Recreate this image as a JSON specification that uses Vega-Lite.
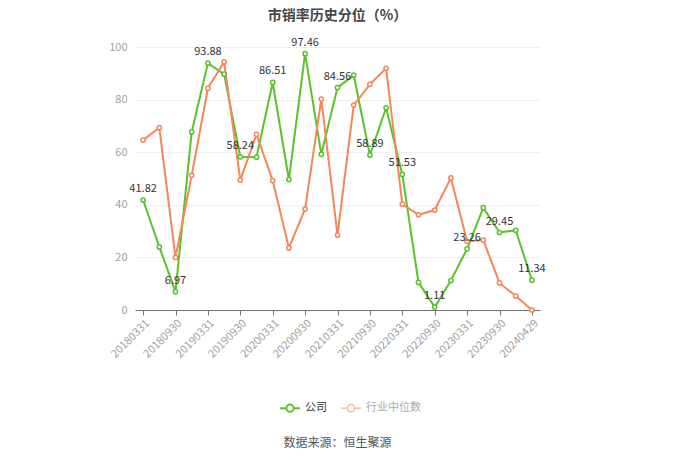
{
  "$schema": "https://vega.github.io/schema/vega-lite/v6.json",
  "autosize": "none",
  "width": 405,
  "height": 263,
  "padding": {"left": 135, "top": 47, "right": 140, "bottom": 150},
  "background": "white",
  "title": {
    "text": "市销率历史分位（%）",
    "fontSize": 14,
    "fontWeight": "bold",
    "color": "#464646",
    "font": "Noto Sans CJK SC",
    "anchor": "middle",
    "offset": 14
  },
  "config": {
    "view": {"stroke": null},
    "font": "Noto Sans CJK SC"
  },
  "data": {
    "values": [
      {"date": "20180331", "series": "公司", "v": 41.82},
      {"date": "20180630", "series": "公司", "v": 24.0},
      {"date": "20180930", "series": "公司", "v": 6.97},
      {"date": "20181231", "series": "公司", "v": 67.7},
      {"date": "20190331", "series": "公司", "v": 93.88},
      {"date": "20190630", "series": "公司", "v": 89.7},
      {"date": "20190930", "series": "公司", "v": 58.24},
      {"date": "20191231", "series": "公司", "v": 58.1},
      {"date": "20200331", "series": "公司", "v": 86.51},
      {"date": "20200630", "series": "公司", "v": 49.6},
      {"date": "20200930", "series": "公司", "v": 97.46},
      {"date": "20201231", "series": "公司", "v": 59.2},
      {"date": "20210331", "series": "公司", "v": 84.56},
      {"date": "20210630", "series": "公司", "v": 89.3},
      {"date": "20210930", "series": "公司", "v": 58.89},
      {"date": "20211231", "series": "公司", "v": 76.9},
      {"date": "20220331", "series": "公司", "v": 51.53},
      {"date": "20220630", "series": "公司", "v": 10.5},
      {"date": "20220930", "series": "公司", "v": 1.11},
      {"date": "20221231", "series": "公司", "v": 11.2},
      {"date": "20230331", "series": "公司", "v": 23.26},
      {"date": "20230630", "series": "公司", "v": 38.9},
      {"date": "20230930", "series": "公司", "v": 29.45},
      {"date": "20231231", "series": "公司", "v": 30.3},
      {"date": "20240429", "series": "公司", "v": 11.34},
      {"date": "20180331", "series": "行业中位数", "v": 64.6},
      {"date": "20180630", "series": "行业中位数", "v": 69.3},
      {"date": "20180930", "series": "行业中位数", "v": 20.0},
      {"date": "20181231", "series": "行业中位数", "v": 51.2},
      {"date": "20190331", "series": "行业中位数", "v": 84.3},
      {"date": "20190630", "series": "行业中位数", "v": 94.3},
      {"date": "20190930", "series": "行业中位数", "v": 49.4},
      {"date": "20191231", "series": "行业中位数", "v": 66.8},
      {"date": "20200331", "series": "行业中位数", "v": 49.2},
      {"date": "20200630", "series": "行业中位数", "v": 23.6},
      {"date": "20200930", "series": "行业中位数", "v": 38.4},
      {"date": "20201231", "series": "行业中位数", "v": 80.2},
      {"date": "20210331", "series": "行业中位数", "v": 28.5},
      {"date": "20210630", "series": "行业中位数", "v": 77.9},
      {"date": "20210930", "series": "行业中位数", "v": 85.8},
      {"date": "20211231", "series": "行业中位数", "v": 91.9},
      {"date": "20220331", "series": "行业中位数", "v": 40.3},
      {"date": "20220630", "series": "行业中位数", "v": 36.2},
      {"date": "20220930", "series": "行业中位数", "v": 38.0},
      {"date": "20221231", "series": "行业中位数", "v": 50.2},
      {"date": "20230331", "series": "行业中位数", "v": 26.1},
      {"date": "20230630", "series": "行业中位数", "v": 26.6},
      {"date": "20230930", "series": "行业中位数", "v": 10.3},
      {"date": "20231231", "series": "行业中位数", "v": 5.3},
      {"date": "20240429", "series": "行业中位数", "v": 0.0}
    ]
  },
  "encoding": {
    "x": {
      "field": "date",
      "type": "ordinal",
      "sort": null,
      "scale": {"type": "point", "padding": 0.5},
      "axis": {
        "values": ["20180331", "20180930", "20190331", "20190930", "20200331", "20200930", "20210331", "20210930", "20220331", "20220930", "20230331", "20230930", "20240429"],
        "labelAngle": -45,
        "labelAlign": "right",
        "labelBaseline": "top",
        "labelColor": "#a0a0a0",
        "labelFontSize": 11,
        "labelPadding": 2,
        "domainColor": "#6e7079",
        "tickColor": "#6e7079",
        "tickSize": 5,
        "grid": false,
        "title": "数据来源：恒生聚源",
        "titleFontSize": 12,
        "titleFontWeight": "normal",
        "titleColor": "#555555",
        "titleX": 202,
        "titleY": 127,
        "titleAnchor": "middle",
        "titleAlign": "center"
      }
    },
    "y": {
      "field": "v",
      "type": "quantitative",
      "scale": {"domain": [0, 100]},
      "axis": {
        "values": [0, 20, 40, 60, 80, 100],
        "domain": false,
        "ticks": false,
        "labelColor": "#a0a0a0",
        "labelFontSize": 11,
        "labelPadding": 8,
        "gridColor": "#eeeeee",
        "title": null
      }
    },
    "color": {
      "field": "series",
      "type": "nominal",
      "sort": ["公司", "行业中位数"],
      "scale": {"domain": ["公司", "行业中位数"], "range": ["#5ac229", "#f5865a"]},
      "legend": {
        "orient": "none",
        "direction": "horizontal",
        "legendX": 144,
        "legendY": 350,
        "title": null,
        "symbolType": "M-1,0L-0.36,0M0.36,0L1,0M-0.36,0A0.36,0.36 0 1,0 0.36,0A0.36,0.36 0 1,0 -0.36,0",
        "symbolSize": 400,
        "symbolStrokeWidth": 2,
        "labelFontSize": 11,
        "columnPadding": 10,
        "encode": {
          "symbols": {"update": {"fill": {"value": "white"}, "opacity": {"signal": "datum.value === '公司' ? 1 : 0.45"}}},
          "labels": {"update": {"fill": {"signal": "datum.value === '公司' ? '#333333' : '#aaaaaa'"}}}
        }
      }
    }
  },
  "layer": [
    {
      "mark": {"type": "line", "strokeWidth": 2}
    },
    {
      "mark": {"type": "point", "shape": "circle", "filled": false, "fill": "white", "fillOpacity": 1, "size": 18, "strokeWidth": 1.5, "opacity": 1}
    },
    {
      "transform": [
        {"filter": {"field": "series", "equal": "公司"}},
        {"filter": {"field": "date", "oneOf": ["20180331", "20180930", "20190331", "20190930", "20200331", "20200930", "20210331", "20210930", "20220331", "20220930", "20230331", "20230930", "20240429"]}}
      ],
      "mark": {"type": "text", "dy": -11, "fontSize": 11, "color": "#333333"},
      "encoding": {
        "text": {"field": "v", "type": "quantitative", "format": ".2f"},
        "color": {"value": "#333333"}
      }
    }
  ]
}
